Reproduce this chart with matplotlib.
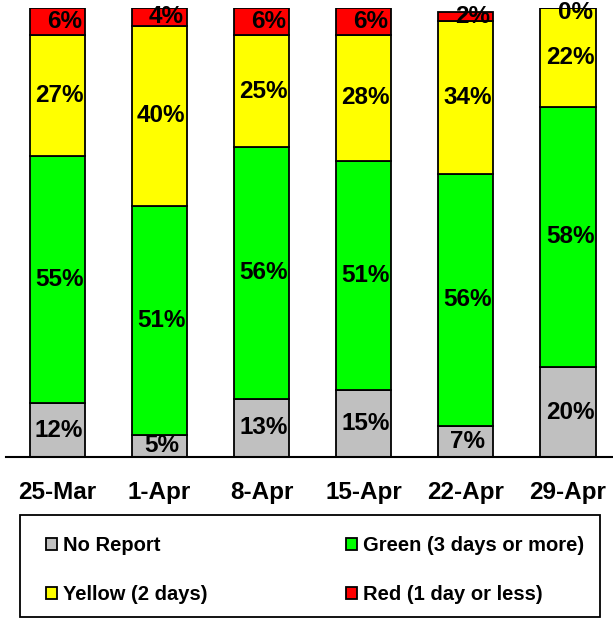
import numpy as np
import matplotlib.pyplot as plt
from matplotlib.patches import Rectangle

plt.rcParams['font.family'] = ['Liberation Sans', 'DejaVu Sans']
plt.rcParams['font.weight'] = 'bold'

weeks = ["25-Mar", "1-Apr", "8-Apr", "15-Apr", "22-Apr", "29-Apr"]
no_report = [12, 5, 13, 15, 7, 20]
green = [55, 51, 56, 51, 56, 58]
yellow = [27, 40, 25, 28, 34, 22]
red = [6, 4, 6, 6, 2, 0]

series = [
    ("No Report", no_report, "#c0c0c0"),
    ("Green (3 days or more)", green, "#00ff00"),
    ("Yellow (2 days)", yellow, "#ffff00"),
    ("Red (1 day or less)", red, "#ff0000"),
]

W, H = 613, 619
fig = plt.figure(figsize=(W / 100, H / 100), dpi=100)
ax = fig.add_axes([6 / W, (H - 457) / H, 607 / W, 449 / H])

x = np.arange(len(weeks))
bottom = np.zeros(len(weeks))
handles = {}
for name, vals, col in series:
    vals = np.array(vals, dtype=float)
    b = ax.bar(x, vals, 0.54, bottom=bottom, color=col, edgecolor="black",
               linewidth=1.3, label=name)
    handles[name] = b
    # red labels sit a little to the right, the thin ones pushed down off the top edge
    dx = 0.07 if name.startswith("Red") else 0.02
    for xi, v, b0 in zip(x, vals, bottom):
        ypos = min(b0 + v / 2, 99.0)
        ax.text(xi + dx, ypos, "%d%%" % v, ha="center", va="center",
                fontsize=17.5, fontweight="bold", color="black", clip_on=False)
    bottom += vals

ax.set_xlim(-0.5, 5.44)
ax.set_ylim(0, 100)
ax.set_xticks(x)
ax.set_xticklabels(weeks, fontsize=17.5, fontweight="bold")
ax.tick_params(axis="x", length=0, pad=17)
ax.set_yticks([])
for s in ["left", "right", "top"]:
    ax.spines[s].set_visible(False)
ax.spines["bottom"].set_linewidth(1.5)

# legend box drawn separately so the entries can sit further inside it
fig.patches.append(Rectangle((20 / W, (H - 617) / H), 580 / W, 102 / H,
                             transform=fig.transFigure, facecolor="white",
                             edgecolor="black", linewidth=1.3, zorder=0))

# legend rows: No Report / Green, then Yellow / Red (filled column by column)
order = ["No Report", "Yellow (2 days)", "Green (3 days or more)", "Red (1 day or less)"]
leg = fig.legend([handles[k] for k in order], order, ncol=2,
                 loc="center", bbox_to_anchor=(46 / W, (H - 605) / H, 538 / W, 70 / H),
                 mode="expand", frameon=False,
                 prop={"size": 14.5, "weight": "bold"}, handlelength=0.55,
                 handleheight=0.55, handletextpad=0.3,
                 labelspacing=1.5, borderpad=0, borderaxespad=0)

fig.savefig("out.png", dpi=100)
